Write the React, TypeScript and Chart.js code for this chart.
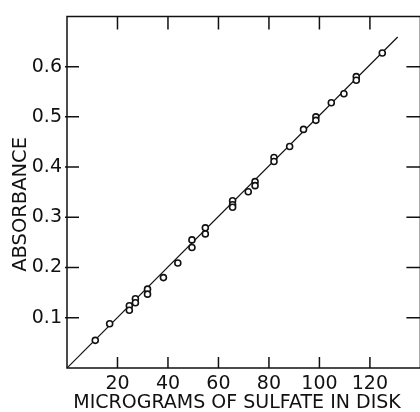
import { useEffect, useRef } from "react";
import { Chart, registerables } from "chart.js";

Chart.register(...registerables);

// Calibration data
const sulfateMicrograms = [
  11.2, 16.9, 24.7, 24.7, 27.1, 27.1, 31.9, 31.9, 38.2, 43.9, 49.5, 49.5, 54.8, 54.8,
  65.6, 65.6, 65.6, 71.8, 74.5, 74.5, 82.0, 82.0, 88.2, 93.7, 98.6, 98.6, 104.7, 109.7,
  114.6, 114.6, 124.9,
];
const absorbanceValues = [
  0.055, 0.088, 0.124, 0.115, 0.138, 0.13, 0.157, 0.147, 0.18, 0.209, 0.255, 0.24, 0.279,
  0.267, 0.333, 0.325, 0.32, 0.351, 0.371, 0.363, 0.419, 0.411, 0.441, 0.475, 0.5, 0.493,
  0.528, 0.546, 0.58, 0.573, 0.627,
];
const fitLineX = [0, 131];
const fitLineY = [0, 0.659];
const xTickValues = [20, 40, 60, 80, 100, 120];
const yTickValues = [0.1, 0.2, 0.3, 0.4, 0.5, 0.6];
const xAxisTitle = "MICROGRAMS OF SULFATE IN DISK";
const yAxisTitle = "ABSORBANCE";

const INK = "#111";
const FONT = '"DejaVu Sans", sans-serif';

const framePlugin = {
  id: "frame",
  afterDraw(chart: any) {
    const { ctx, chartArea, scales } = chart;
    const { left, right, top, bottom } = chartArea;
    const x = scales.x;
    const y = scales.y;
    ctx.save();
    ctx.strokeStyle = INK;
    ctx.lineWidth = 1.5;
    ctx.beginPath();
    ctx.moveTo(left, top);
    ctx.lineTo(right, top);
    ctx.lineTo(right, bottom);
    ctx.lineTo(left, bottom);
    ctx.closePath();
    ctx.stroke();
    ctx.beginPath();
    xTickValues.forEach((v) => {
      const px = x.getPixelForValue(v);
      ctx.moveTo(px, top);
      ctx.lineTo(px, top + 13);
      ctx.moveTo(px, bottom);
      ctx.lineTo(px, bottom - 11);
    });
    yTickValues.forEach((v) => {
      const py = y.getPixelForValue(v);
      ctx.moveTo(left - 2, py);
      ctx.lineTo(left + 12, py);
      ctx.moveTo(right, py);
      ctx.lineTo(right - 14, py);
    });
    ctx.stroke();

    ctx.fillStyle = INK;
    ctx.font = `19px ${FONT}`;
    ctx.textAlign = "center";
    ctx.textBaseline = "alphabetic";
    ctx.fillText(xAxisTitle, left + 170, bottom + 40);

    ctx.translate(left - 41, top + 188);
    ctx.rotate(-Math.PI / 2);
    ctx.font = `19.5px ${FONT}`;
    ctx.fillText(yAxisTitle, 0, 0);
    ctx.restore();
  },
};

export default function App() {
  const canvasRef = useRef<HTMLCanvasElement | null>(null);

  useEffect(() => {
    document.documentElement.style.overflow = "hidden";
    document.body.style.overflow = "hidden";
    const canvas = canvasRef.current;
    if (!canvas) return;
    const chart = new Chart(canvas, {
      type: "scatter",
      data: {
        datasets: [
          {
            type: "scatter",
            label: "Samples",
            data: sulfateMicrograms.map((v, i) => ({ x: v, y: absorbanceValues[i] })),
            pointStyle: "circle",
            pointRadius: 3,
            pointBorderWidth: 1.6,
            borderColor: INK,
            backgroundColor: "#fff",
            order: 1,
          },
          {
            type: "line",
            label: "Fit",
            data: fitLineX.map((v, i) => ({ x: v, y: fitLineY[i] })),
            borderColor: INK,
            borderWidth: 1.2,
            pointRadius: 0,
            fill: false,
            order: 2,
          } as any,
        ],
      },
      options: {
        animation: false,
        responsive: true,
        maintainAspectRatio: false,
        layout: { padding: { top: 11, right: 2, left: 0, bottom: 0 } },
        plugins: {
          legend: { display: false },
          tooltip: { enabled: false },
        },
        scales: {
          x: {
            type: "linear",
            min: 0,
            max: 140,
            grid: { display: false, drawTicks: false },
            border: { display: false },
            afterFit(scale: any) {
              scale.height = 44;
            },
            ticks: {
              stepSize: 20,
              padding: 5,
              color: INK,
              font: { family: FONT, size: 19 },
              maxRotation: 0,
              callback: (v: any) => (v > 0 && v < 140 ? String(v) : ""),
            },
          },
          y: {
            type: "linear",
            min: 0,
            max: 0.7,
            grid: { display: false, drawTicks: false },
            border: { display: false },
            afterFit(scale: any) {
              scale.width = 67;
            },
            ticks: {
              stepSize: 0.1,
              padding: 5,
              color: INK,
              font: { family: FONT, size: 19 },
              callback: (v: any) => (v > 0.05 && v < 0.65 ? Number(v).toFixed(1) : ""),
            },
          },
        },
      },
      plugins: [framePlugin],
    });
    return () => chart.destroy();
  }, []);

  return (
    <div style={{ position: "absolute", left: 0, top: 0, width: 426, height: 412 }}>
      <canvas ref={canvasRef} />
    </div>
  );
}
